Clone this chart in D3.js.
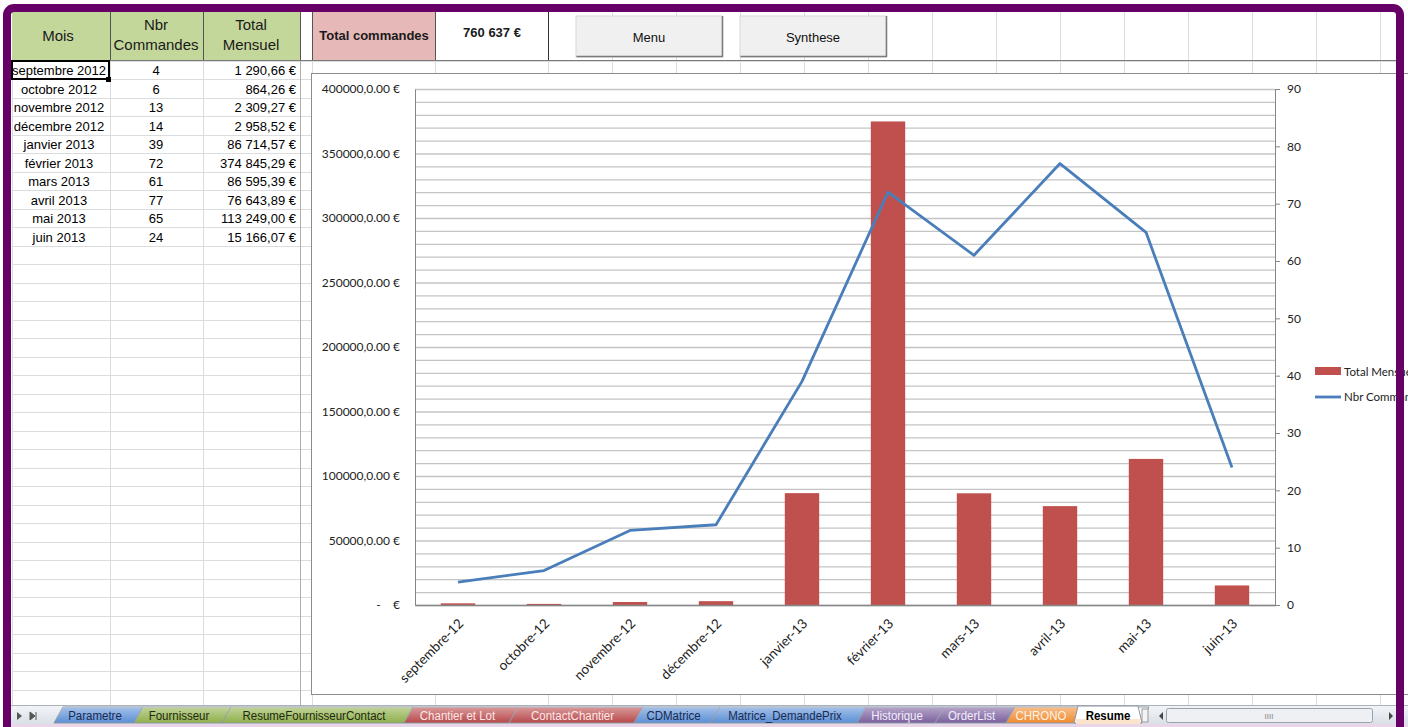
<!DOCTYPE html>
<html>
<head>
<meta charset="utf-8">
<script src="https://cdn.jsdelivr.net/npm/d3@7/dist/d3.min.js"></script>
<style>
  html, body { margin: 0; padding: 0; background: #fff; overflow: hidden; }
  svg { display: block; }
</style>
</head>
<body>
<div id="app"></div>
<script>
// Données du tableau "Resume"
const mois = ["septembre 2012", "octobre 2012", "novembre 2012", "décembre 2012", "janvier 2013",
              "février 2013", "mars 2013", "avril 2013", "mai 2013", "juin 2013"];
const moisCourts = ["septembre-12", "octobre-12", "novembre-12", "décembre-12", "janvier-13",
                    "février-13", "mars-13", "avril-13", "mai-13", "juin-13"];
const nbrCommandes = [4, 6, 13, 14, 39, 72, 61, 77, 65, 24];
const totalMensuel = [1290.66, 864.26, 2309.27, 2958.52, 86714.57, 374845.29, 86595.39, 76643.89, 113249.00, 15166.07];

// Graduations des axes
const ticksMontant = [0, 50000, 100000, 150000, 200000, 250000, 300000, 350000, 400000];
const ticksNbr = [0, 10, 20, 30, 40, 50, 60, 70, 80, 90];

// Onglets de la feuille
const onglets = ["Parametre", "Fournisseur", "ResumeFournisseurContact", "Chantier et Lot", "ContactChantier",
                 "CDMatrice", "Matrice_DemandePrix", "Historique", "OrderList", "CHRONO", "Resume"];
const ongletCouleurs = ["#5b8fd6", "#8fb04a", "#8fb04a", "#b8484a", "#b8484a",
                        "#5b8fd6", "#5b8fd6", "#7a5f9e", "#7a5f9e", "#f08a2e", "#ffffff"];
const ongletTexte = ["#1a2a50", "#1f2a10", "#1f2a10", "#ffe8e8", "#ffe8e8",
                     "#1a2a50", "#1a2a50", "#f4eefc", "#f4eefc", "#fff3e6", "#000"];

const W = 1408, H = 727;
const fr = d3.formatLocale({ decimal: ",", thousands: " ", grouping: [3], currency: ["", " €"] });
const fmtEuro = fr.format(",.2f");
const fmtTotal = fr.format(",.0f");

const svg = d3.select('#app').append('svg').attr('width', W).attr('height', H);
const defs = svg.append('defs');

const sheetFont = '"Liberation Sans", Arial, sans-serif';
const chartFont = 'Lato, "Open Sans", sans-serif';

// ---- grille du tableur ----
const colX = [12, 110, 203, 300, 312, 435, 548, 612, 676, 740, 804, 868, 932, 996, 1060, 1124, 1188, 1252, 1316, 1380];
const rowY = d3.range(0, 35).map(k => 60.5 + 18.5 * k).filter(y => y < 705);

const grid = svg.append('g');
grid.selectAll('.hl').data(rowY).join('line')
  .attr('x1', 12).attr('x2', 1400).attr('y1', d => Math.round(d) + 0.5).attr('y2', d => Math.round(d) + 0.5)
  .attr('stroke', '#dadcdd');
grid.selectAll('.vl').data(colX).join('line')
  .attr('x1', d => d + 0.5).attr('x2', d => d + 0.5).attr('y1', 12).attr('y2', 705)
  .attr('stroke', '#dadcdd');

// en-tête vert
grid.append('rect').attr('x', 12).attr('y', 12).attr('width', 288).attr('height', 48).attr('fill', '#c4d79b');
grid.append('rect').attr('x', 313).attr('y', 12).attr('width', 122).attr('height', 48).attr('fill', '#e6b8b7');
[110, 203, 300, 312, 435].forEach(x => {
  grid.append('line').attr('x1', x + 0.5).attr('x2', x + 0.5).attr('y1', 12).attr('y2', 60)
    .attr('stroke', '#555');
});
grid.append('line').attr('x1', 548.5).attr('x2', 548.5).attr('y1', 12).attr('y2', 60).attr('stroke', '#333');
grid.append('line').attr('x1', 300.5).attr('x2', 300.5).attr('y1', 60).attr('y2', 705).attr('stroke', '#b0b0b0');
grid.append('line').attr('x1', 12).attr('x2', 1400).attr('y1', 60.5).attr('y2', 60.5).attr('stroke', '#7a7a7a');

const hdr = svg.append('g').attr('font-family', sheetFont).attr('font-size', 15).attr('fill', '#1a1a1a')
  .attr('text-anchor', 'middle');
hdr.append('text').attr('x', 58).attr('y', 41).text('Mois');
hdr.append('text').attr('x', 156).attr('y', 30).text('Nbr');
hdr.append('text').attr('x', 156).attr('y', 50).text('Commandes');
hdr.append('text').attr('x', 251).attr('y', 30).text('Total');
hdr.append('text').attr('x', 251).attr('y', 50).text('Mensuel');
hdr.append('text').attr('x', 374).attr('y', 40).attr('font-size', 13).attr('font-weight', 'bold').text('Total commandes');
hdr.append('text').attr('x', 492).attr('y', 37).attr('font-size', 13).attr('font-weight', 'bold')
  .text(fmtTotal(d3.sum(totalMensuel)) + ' €');

// boutons
[{ x: 576, label: 'Menu' }, { x: 740, label: 'Synthese' }].forEach(b => {
  const g = svg.append('g');
  g.append('rect').attr('x', b.x).attr('y', 16).attr('width', 146).attr('height', 41).attr('fill', '#f0f0f0')
    .attr('stroke', '#d8d8d8');
  g.append('path').attr('d', `M${b.x + 0.5},56.5 H${b.x + 146.5} V16`).attr('fill', 'none').attr('stroke', '#7a7a7a').attr('stroke-width', 1.5);
  g.append('text').attr('x', b.x + 73).attr('y', 42).attr('text-anchor', 'middle')
    .attr('font-family', sheetFont).attr('font-size', 13).attr('fill', '#111').text(b.label);
});

// lignes du tableau
const rowH = 18.5;
const rows = svg.append('g').attr('font-family', sheetFont).attr('font-size', 13).attr('fill', '#000');
rows.selectAll('.m').data(mois).join('text')
  .attr('x', 59).attr('y', (d, i) => 61 + rowH * i + 14).attr('text-anchor', 'middle').text(d => d);
rows.selectAll('.n').data(nbrCommandes).join('text')
  .attr('x', 156).attr('y', (d, i) => 61 + rowH * i + 14).attr('text-anchor', 'middle').text(d => d);
rows.selectAll('.t').data(totalMensuel).join('text')
  .attr('x', 296).attr('y', (d, i) => 61 + rowH * i + 14).attr('text-anchor', 'end').text(d => fmtEuro(d) + ' €');

// cellule sélectionnée
svg.append('rect').attr('x', 12).attr('y', 61).attr('width', 97).attr('height', 18)
  .attr('fill', 'none').attr('stroke', '#000').attr('stroke-width', 2);
svg.append('rect').attr('x', 106).attr('y', 77).attr('width', 5).attr('height', 5).attr('fill', '#000');

// ---- graphique ----
const chart = svg.append('g');
chart.append('rect').attr('x', 311.5).attr('y', 73.5).attr('width', 1100).attr('height', 621)
  .attr('fill', '#fff').attr('stroke', '#8c8c8c');

const plot = { left: 415, right: 1275, top: 89, bottom: 605 };
const x = d3.scaleBand().domain(moisCourts).range([plot.left, plot.right]);
const yM = d3.scaleLinear().domain([0, 400000]).range([plot.bottom, plot.top]);
const yN = d3.scaleLinear().domain([0, 90]).range([plot.bottom, plot.top]);

// quadrillage principal et secondaire
const gridG = chart.append('g').attr('transform', `translate(${plot.left},0)`)
  .call(d3.axisLeft(yM).tickValues(d3.range(0, 400001, 10000)).tickSize(-(plot.right - plot.left)).tickFormat(''));
gridG.select('.domain').remove();
gridG.selectAll('line').attr('stroke', '#c4c4c4').attr('stroke-width', 1.3);

// axe gauche
const axL = chart.append('g').attr('transform', `translate(${plot.left},0)`)
  .call(d3.axisLeft(yM).tickValues(ticksMontant).tickSize(0).tickPadding(15)
    .tickFormat(d => d === 0 ? '-\u00a0\u00a0\u00a0\u00a0€' : `${d},0.00 €`));
axL.select('.domain').attr('stroke', '#868686');
axL.selectAll('text').attr('font-family', chartFont).attr('font-size', 12).attr('fill', '#222');

// barres
const bw = x.bandwidth() / 2.5;
chart.append('g').selectAll('rect').data(totalMensuel).join('rect')
  .attr('x', (d, i) => x(moisCourts[i]) + x.bandwidth() / 2 - bw / 2)
  .attr('width', bw)
  .attr('y', d => yM(d))
  .attr('height', d => plot.bottom - yM(d))
  .attr('fill', '#c0504d');

// axe bas
const axB = chart.append('g').attr('transform', `translate(0,${plot.bottom})`)
  .call(d3.axisBottom(x).tickSize(0).tickPadding(0));
axB.select('.domain').attr('stroke', '#868686').attr('stroke-width', 1.3);
axB.selectAll('text')
  .attr('font-family', chartFont).attr('font-size', 13.5).attr('fill', '#222')
  .attr('text-anchor', 'end').attr('dy', '0.35em')
  .attr('transform', 'translate(3,16) rotate(-45)');

// axe droit
const axR = chart.append('g').attr('transform', `translate(${plot.right},0)`)
  .call(d3.axisRight(yN).tickValues(ticksNbr).tickSize(5).tickPadding(7));
axR.selectAll('.domain, line').attr('stroke', '#868686');
axR.selectAll('text').attr('font-family', chartFont).attr('font-size', 12).attr('fill', '#222');

// courbe Nbr Commandes
const line = d3.line()
  .x((d, i) => x(moisCourts[i]) + x.bandwidth() / 2)
  .y(d => yN(d));
chart.append('path').datum(nbrCommandes).attr('d', line)
  .attr('fill', 'none').attr('stroke', '#4a7ebb').attr('stroke-width', 2.8).attr('stroke-linejoin', 'round');

// légende (coupée par le cadre, comme dans la feuille)
const leg = chart.append('g').attr('font-family', chartFont).attr('font-size', 11.5).attr('fill', '#222');
leg.append('rect').attr('x', 1315).attr('y', 367).attr('width', 26).attr('height', 8).attr('fill', '#c0504d');
leg.append('text').attr('x', 1344).attr('y', 376).text('Total Mensuel');
leg.append('line').attr('x1', 1315).attr('x2', 1341).attr('y1', 397).attr('y2', 397)
  .attr('stroke', '#4a7ebb').attr('stroke-width', 2.8);
leg.append('text').attr('x', 1344).attr('y', 401).text('Nbr Commandes');

// ---- barre des onglets ----
const tabBar = svg.append('g');
const gradBar = defs.append('linearGradient').attr('id', 'bar').attr('x1', 0).attr('y1', 0).attr('x2', 0).attr('y2', 1);
gradBar.append('stop').attr('offset', 0).attr('stop-color', '#f3f5f8');
gradBar.append('stop').attr('offset', 1).attr('stop-color', '#d9dfe7');
tabBar.append('rect').attr('x', 0).attr('y', 705).attr('width', W).attr('height', 20).attr('fill', 'url(#bar)');
tabBar.append('line').attr('x1', 0).attr('x2', W).attr('y1', 705.5).attr('y2', 705.5).attr('stroke', '#a9b2bd');

const gloss = defs.append('linearGradient').attr('id', 'gloss').attr('x1', 0).attr('y1', 0).attr('x2', 0).attr('y2', 1);
gloss.append('stop').attr('offset', 0).attr('stop-color', '#fff').attr('stop-opacity', 0.45);
gloss.append('stop').attr('offset', 1).attr('stop-color', '#fff').attr('stop-opacity', 0);

// flèches de navigation
tabBar.append('path').attr('d', 'M17,712 L22,716 L17,720 Z').attr('fill', '#555');
tabBar.append('path').attr('d', 'M30,712 L35,716 L30,720 Z M36,712 V720').attr('fill', '#555').attr('stroke', '#555');

const tabX = [54, 134, 222, 404, 509, 634, 711, 857, 935, 1006, 1074, 1140];
onglets.forEach((name, i) => {
  const x0 = tabX[i], x1 = tabX[i + 1];
  const pts = `${x0},723 ${x0 + 9},707 ${x1 + 9},707 ${x1},723`;
  tabBar.append('polygon').attr('points', pts).attr('fill', ongletCouleurs[i]).attr('stroke', '#8d96a2');
  if (i < onglets.length - 1) tabBar.append('polygon').attr('points', pts).attr('fill', 'url(#gloss)');
});
// l'onglet actif par-dessus
tabBar.append('polygon').attr('points', `1074,723 1078,706 1138,706 1142,723`).attr('fill', '#fff').attr('stroke', '#8d96a2');
tabBar.append('rect').attr('x', 1076).attr('y', 719).attr('width', 64).attr('height', 5).attr('fill', '#fbe3cc');
onglets.forEach((name, i) => {
  const cx = (tabX[i] + tabX[i + 1]) / 2 + 1;
  tabBar.append('text').attr('x', 0).attr('y', 0)
    .attr('transform', `translate(${cx},720) scale(0.92,1)`)
    .attr('text-anchor', 'middle').attr('font-family', sheetFont)
    .attr('font-size', 12.5).attr('font-weight', i === onglets.length - 1 ? 'bold' : 'normal')
    .attr('fill', ongletTexte[i]).text(name);
});

// barre de défilement
tabBar.append('rect').attr('x', 1142).attr('y', 709).attr('width', 6).attr('height', 13).attr('fill', '#f4f4f4').attr('stroke', '#999');
tabBar.append('path').attr('d', 'M1159,716 L1163,712 L1163,720 Z').attr('fill', '#444');
tabBar.append('rect').attr('x', 1166.5).attr('y', 708.5).attr('width', 206).attr('height', 14).attr('rx', 2)
  .attr('fill', '#eef0f3').attr('stroke', '#9aa2ac');
tabBar.append('text').attr('x', 1269).attr('y', 719).attr('text-anchor', 'middle').attr('font-size', 8)
  .attr('fill', '#888').attr('font-family', sheetFont).text('IIII');
tabBar.append('path').attr('d', 'M1389,712 L1393,716 L1389,720 Z').attr('fill', '#444');

// bas de fenêtre
svg.append('rect').attr('x', 0).attr('y', 724).attr('width', W).attr('height', 3).attr('fill', '#e9d6e9');

// cadre violet
svg.append('rect').attr('x', 7).attr('y', 8).attr('width', 1393).attr('height', 760).attr('rx', 7)
  .attr('fill', 'none').attr('stroke', '#660066').attr('stroke-width', 8);
svg.append('rect').attr('x', 0).attr('y', 0).attr('width', 3).attr('height', H).attr('fill', '#fff');
</script>
</body>
</html>
